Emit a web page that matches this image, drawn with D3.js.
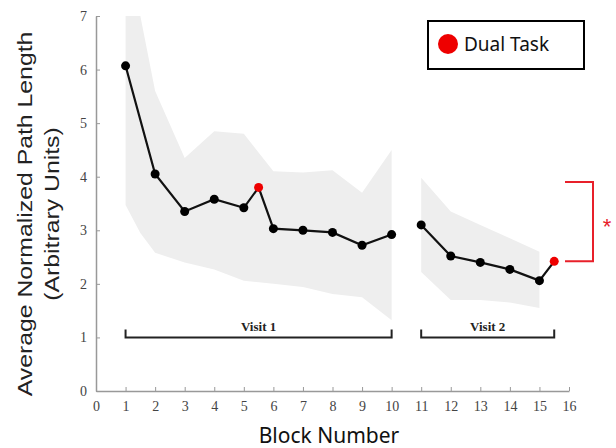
<!DOCTYPE html>
<html lang="en">
<head>
    <meta charset="UTF-8">
    <title>Path Length</title>
    <style>
        body { margin: 0; background: #fff; }
        .axis path, .axis line { stroke: #999; }
        .axis text { font-family: "Liberation Serif", serif; font-size: 14px; fill: #444; }
    </style>
</head>
<body>
<script src="https://d3js.org/d3.v7.min.js"></script>
<script>

    const width = 616;
    const height = 448;

    // mean path length per block
    const blocks1 = [1, 2, 3, 4, 5, 6, 7, 8, 9, 10];
    const values1 = [6.07, 4.05, 3.35, 3.58, 3.42, 3.03, 3.0, 2.96, 2.72, 2.92];
    const dual1 = {block: 5.5, value: 3.8};
    const blocks2 = [11, 12, 13, 14, 15];
    const values2 = [3.1, 2.52, 2.4, 2.27, 2.06];
    const dual2 = {block: 15.5, value: 2.42};

    // shaded spread
    const bandX1 = [1, 1.5, 2, 3, 4, 5, 6, 7, 8, 9, 10];
    const upper1 = [7, 7, 5.6, 4.35, 4.85, 4.8, 4.1, 4.08, 4.12, 3.7, 4.5];
    const lower1 = [3.47, 2.95, 2.58, 2.4, 2.27, 2.06, 2.0, 1.94, 1.81, 1.75, 1.32];
    const bandX2 = [11, 12, 13, 14, 15];
    const upper2 = [3.98, 3.35, 3.1, 2.85, 2.6];
    const lower2 = [2.22, 1.7, 1.7, 1.65, 1.55];

    const xTicks = d3.range(0, 17);
    const yTicks = d3.range(0, 8);

    let svg = d3.select('body').append('svg')
        .attr('width', width)
        .attr('height', height);

    let x = d3.scaleLinear().domain([0, 16]).range([96, 569]);
    let y = d3.scaleLinear().domain([0, 7]).range([391, 16]);

    // bands
    let area = d3.area()
        .x(d => x(d[0]))
        .y0(d => y(d[1]))
        .y1(d => y(d[2]));

    svg.append('path')
        .datum(bandX1.map((b, i) => [b, lower1[i], upper1[i]]))
        .attr('d', area)
        .attr('fill', '#eeeeee');

    svg.append('path')
        .datum(bandX2.map((b, i) => [b, lower2[i], upper2[i]]))
        .attr('d', area)
        .attr('fill', '#eeeeee');

    // axes
    svg.append('g')
        .attr('class', 'axis')
        .attr('transform', 'translate(0,' + y(0) + ')')
        .call(d3.axisBottom(x).tickValues(xTicks).tickFormat(d3.format('d'))
            .tickSize(-4).tickSizeOuter(0).tickPadding(10))
        .call(g => g.select('.domain').attr('stroke-width', 1.5));

    svg.append('g')
        .attr('class', 'axis')
        .attr('transform', 'translate(' + x(0) + ',0)')
        .call(d3.axisLeft(y).tickValues(yTicks).tickFormat(d3.format('d'))
            .tickSize(-4).tickSizeOuter(0).tickPadding(9))
        .call(g => g.select('.domain').attr('stroke-width', 1.5));

    // lines and markers
    let line = d3.line().x(d => x(d[0])).y(d => y(d[1]));

    let series1 = blocks1.slice(0, 5).map((b, i) => [b, values1[i]])
        .concat([[dual1.block, dual1.value]])
        .concat(blocks1.slice(5).map((b, i) => [b, values1[i + 5]]));
    let series2 = blocks2.map((b, i) => [b, values2[i]])
        .concat([[dual2.block, dual2.value]]);

    [series1, series2].forEach(s => {
        svg.append('path')
            .datum(s)
            .attr('d', line)
            .attr('fill', 'none')
            .attr('stroke', '#111')
            .attr('stroke-width', 2.2);
    });

    let pts = blocks1.map((b, i) => [b, values1[i]])
        .concat(blocks2.map((b, i) => [b, values2[i]]));

    svg.append('g').selectAll('circle')
        .data(pts)
        .enter().append('circle')
        .attr('cx', d => x(d[0]))
        .attr('cy', d => y(d[1]))
        .attr('r', 4.5)
        .attr('fill', '#000');

    svg.append('g').selectAll('circle')
        .data([dual1, dual2])
        .enter().append('circle')
        .attr('cx', d => x(d.block))
        .attr('cy', d => y(d.value))
        .attr('r', 4.5)
        .attr('fill', '#ee0000');

    // visit brackets
    const visits = [
        {label: 'Visit 1', from: 1, to: 10},
        {label: 'Visit 2', from: 11, to: 15.5}
    ];
    visits.forEach(v => {
        let yb = y(1);
        svg.append('path')
            .attr('d', 'M' + x(v.from) + ',' + (yb - 8) + 'V' + yb + 'H' + x(v.to) + 'V' + (yb - 8))
            .attr('fill', 'none')
            .attr('stroke', '#222')
            .attr('stroke-width', 2);
        svg.append('text')
            .attr('x', x((v.from + v.to) / 2))
            .attr('y', yb - 6)
            .attr('text-anchor', 'middle')
            .style('font-family', '"Liberation Serif", serif')
            .style('font-weight', 'bold')
            .style('font-size', '13px')
            .style('fill', '#222')
            .text(v.label);
    });

    // significance bracket
    const sigTop = 3.9;
    svg.append('path')
        .attr('d', 'M565,' + y(sigTop) + 'H593V' + y(dual2.value) + 'H565')
        .attr('fill', 'none')
        .attr('stroke', '#e8202a')
        .attr('stroke-width', 2);
    svg.append('text')
        .attr('x', 607)
        .attr('y', 234)
        .attr('text-anchor', 'middle')
        .style('font-family', '"Liberation Sans", sans-serif')
        .style('font-size', '22px')
        .style('fill', '#e8202a')
        .text('*');

    // legend
    svg.append('rect')
        .attr('x', 428).attr('y', 21)
        .attr('width', 156).attr('height', 48)
        .attr('fill', '#fff')
        .attr('stroke', '#000')
        .attr('stroke-width', 2);
    svg.append('circle')
        .attr('cx', 448).attr('cy', 44)
        .attr('r', 10)
        .attr('fill', '#ee0000');
    svg.append('text')
        .attr('x', 464).attr('y', 51)
        .style('font-family', '"Noto Sans", sans-serif')
        .style('font-size', '19px')
        .style('fill', '#111')
        .text('Dual Task');

    // axis titles (reference text is stretched along its length)
    svg.append('text')
        .attr('transform', 'translate(32,214) rotate(-90) scale(1.24,1)')
        .attr('text-anchor', 'middle')
        .style('font-family', '"Liberation Sans", sans-serif')
        .style('font-size', '20px')
        .style('fill', '#222')
        .text('Average Normalized Path Length');
    svg.append('text')
        .attr('transform', 'translate(59,214) rotate(-90) scale(1.24,1)')
        .attr('text-anchor', 'middle')
        .style('font-family', '"Liberation Sans", sans-serif')
        .style('font-size', '20px')
        .style('fill', '#222')
        .text('(Arbitrary Units)');
    svg.append('text')
        .attr('x', 329).attr('y', 443)
        .attr('text-anchor', 'middle')
        .style('font-family', '"Noto Sans", sans-serif')
        .style('font-size', '21px')
        .style('fill', '#111')
        .text('Block Number');

</script>
</body>
</html>
